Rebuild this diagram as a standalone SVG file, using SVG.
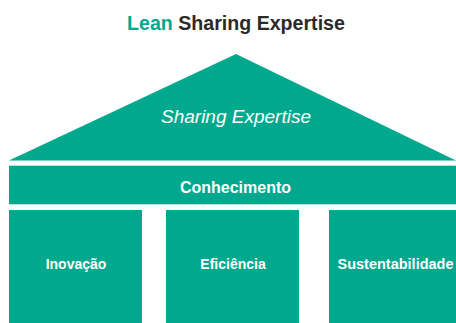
<svg xmlns="http://www.w3.org/2000/svg" width="456" height="323" viewBox="0 0 456 323">
  <style>
    .shape { fill: #00a88e; }
    .lbl { font-family: "Liberation Sans", Arial, sans-serif; fill: #ffffff; text-anchor: middle; }
    .b { font-weight: bold; }
  </style>
  <rect width="456" height="323" fill="#ffffff"/>
  <text x="236" y="29.5" font-family="Liberation Sans, Arial, sans-serif" font-size="19.6" font-weight="bold" text-anchor="middle" fill="#2b2a29"><tspan fill="#00a88e">Lean</tspan> Sharing Expertise</text>
  <g id="roof">
    <polygon class="shape" points="236,54 456,160.5 9,160.5"/>
    <text class="lbl" x="236" y="122.5" font-size="19" font-style="italic">Sharing Expertise</text>
  </g>
  <g id="conhecimento">
    <rect class="shape" x="9" y="165.7" width="447" height="38.6"/>
    <text class="lbl b" x="235.5" y="192.6" font-size="16">Conhecimento</text>
  </g>
  <g id="inovacao">
    <rect class="shape" x="9" y="210" width="133" height="113"/>
    <text class="lbl b" x="76" y="269.3" font-size="14">Inovação</text>
  </g>
  <g id="eficiencia">
    <rect class="shape" x="166" y="210" width="133" height="113"/>
    <text class="lbl b" x="233" y="269.3" font-size="14">Eficiência</text>
  </g>
  <g id="sustentabilidade">
    <rect class="shape" x="329" y="210" width="127" height="113"/>
    <text class="lbl b" x="395.5" y="269.3" font-size="14.5">Sustentabilidade</text>
  </g>
  <g id="connectors"/>
</svg>
